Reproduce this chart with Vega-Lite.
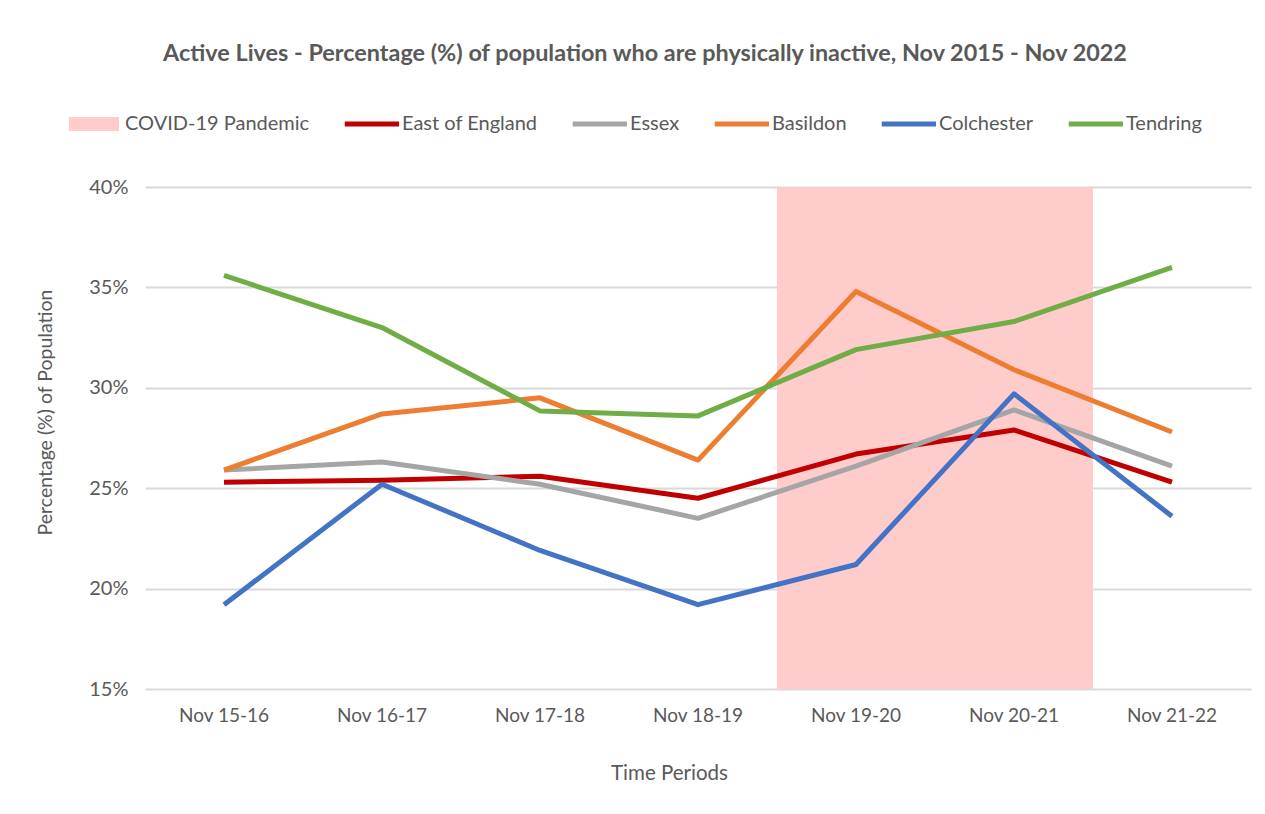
{
  "$schema": "https://vega.github.io/schema/vega-lite/v6.json",
  "autosize": {"type": "none"},
  "width": 1106,
  "height": 502,
  "padding": {"left": 145, "top": 187, "right": 14, "bottom": 125},
  "background": "white",
  "title": {
    "text": "Active Lives - Percentage (%) of population who are physically inactive, Nov 2015 - Nov 2022",
    "anchor": "middle",
    "frame": "group",
    "dx": -53,
    "offset": 33,
    "font": "Lato",
    "fontSize": 23.4,
    "fontWeight": "bold",
    "color": "#595959",
    "limit": 1200
  },
  "config": {
    "view": {"stroke": null},
    "font": "Lato"
  },
  "datasets": {
    "lines": [
      {"period": "Nov 15-16", "area": "East of England", "pct": 25.3},
      {"period": "Nov 16-17", "area": "East of England", "pct": 25.4},
      {"period": "Nov 17-18", "area": "East of England", "pct": 25.6},
      {"period": "Nov 18-19", "area": "East of England", "pct": 24.5},
      {"period": "Nov 19-20", "area": "East of England", "pct": 26.7},
      {"period": "Nov 20-21", "area": "East of England", "pct": 27.9},
      {"period": "Nov 21-22", "area": "East of England", "pct": 25.3},
      {"period": "Nov 15-16", "area": "Essex", "pct": 25.9},
      {"period": "Nov 16-17", "area": "Essex", "pct": 26.3},
      {"period": "Nov 17-18", "area": "Essex", "pct": 25.2},
      {"period": "Nov 18-19", "area": "Essex", "pct": 23.5},
      {"period": "Nov 19-20", "area": "Essex", "pct": 26.1},
      {"period": "Nov 20-21", "area": "Essex", "pct": 28.9},
      {"period": "Nov 21-22", "area": "Essex", "pct": 26.1},
      {"period": "Nov 15-16", "area": "Basildon", "pct": 25.9},
      {"period": "Nov 16-17", "area": "Basildon", "pct": 28.7},
      {"period": "Nov 17-18", "area": "Basildon", "pct": 29.5},
      {"period": "Nov 18-19", "area": "Basildon", "pct": 26.4},
      {"period": "Nov 19-20", "area": "Basildon", "pct": 34.8},
      {"period": "Nov 20-21", "area": "Basildon", "pct": 30.9},
      {"period": "Nov 21-22", "area": "Basildon", "pct": 27.8},
      {"period": "Nov 15-16", "area": "Colchester", "pct": 19.2},
      {"period": "Nov 16-17", "area": "Colchester", "pct": 25.2},
      {"period": "Nov 17-18", "area": "Colchester", "pct": 21.9},
      {"period": "Nov 18-19", "area": "Colchester", "pct": 19.2},
      {"period": "Nov 19-20", "area": "Colchester", "pct": 21.2},
      {"period": "Nov 20-21", "area": "Colchester", "pct": 29.7},
      {"period": "Nov 21-22", "area": "Colchester", "pct": 23.6},
      {"period": "Nov 15-16", "area": "Tendring", "pct": 35.6},
      {"period": "Nov 16-17", "area": "Tendring", "pct": 33.0},
      {"period": "Nov 17-18", "area": "Tendring", "pct": 28.85},
      {"period": "Nov 18-19", "area": "Tendring", "pct": 28.6},
      {"period": "Nov 19-20", "area": "Tendring", "pct": 31.9},
      {"period": "Nov 20-21", "area": "Tendring", "pct": 33.3},
      {"period": "Nov 21-22", "area": "Tendring", "pct": 36.0}
    ],
    "covid": [
      {"period": "Nov 19-20", "area": "COVID-19 Pandemic", "low": 15, "high": 40},
      {"period": "Nov 20-21", "area": "COVID-19 Pandemic", "low": 15, "high": 40}
    ]
  },
  "encoding": {
    "x": {
      "field": "period",
      "type": "nominal",
      "sort": null,
      "scale": {
        "type": "band",
        "domain": ["Nov 15-16", "Nov 16-17", "Nov 17-18", "Nov 18-19", "Nov 19-20", "Nov 20-21", "Nov 21-22"],
        "paddingInner": 0,
        "paddingOuter": 0
      },
      "axis": {
        "title": "Time Periods",
        "titleFont": "Lato",
        "titleFontSize": 20.5,
        "titleFontWeight": "normal",
        "titleColor": "#595959",
        "titleX": 524,
        "titleY": 84,
        "titleBaseline": "middle",
        "labelAngle": 0,
        "labelFont": "Lato",
        "labelFontSize": 19,
        "labelColor": "#595959",
        "labelPadding": 17,
        "ticks": false,
        "domain": false,
        "grid": false
      }
    }
  },
  "layer": [
    {
      "data": {"name": "covid"},
      "mark": {"type": "rect", "opacity": 1},
      "encoding": {
        "y": {"field": "low", "type": "quantitative"},
        "y2": {"field": "high"},
        "color": {"field": "area", "type": "nominal"}
      }
    },
    {
      "data": {"name": "lines"},
      "mark": {"type": "line", "strokeWidth": 5, "strokeJoin": "round", "strokeCap": "butt"},
      "encoding": {
        "y": {
          "field": "pct",
          "type": "quantitative",
          "scale": {"domain": [15, 40], "nice": false, "zero": false},
          "axis": {
            "values": [15, 20, 25, 30, 35, 40],
            "labelExpr": "datum.value + '%'",
            "title": "Percentage (%) of Population",
            "titleFont": "Lato",
            "titleFontSize": 19.5,
            "titleFontWeight": "normal",
            "titleColor": "#595959",
            "titleAngle": -90,
            "titleX": -100,
            "titleY": 225,
            "titleAlign": "center",
            "titleBaseline": "middle",
            "labelFont": "Lato",
            "labelFontSize": 20,
            "labelColor": "#595959",
            "labelPadding": 17,
            "ticks": false,
            "domain": false,
            "grid": true,
            "gridColor": "#d9d9d9",
            "gridWidth": 2
          }
        },
        "color": {
          "field": "area",
          "type": "nominal",
          "sort": null,
          "scale": {
            "domain": ["COVID-19 Pandemic", "East of England", "Essex", "Basildon", "Colchester", "Tendring"],
            "range": ["#FFCCCC", "#C00000", "#A5A5A5", "#ED7D31", "#4472C4", "#70AD47"]
          },
          "legend": {
            "title": null,
            "orient": "none",
            "legendX": -76,
            "legendY": -88,
            "direction": "horizontal",
            "columnPadding": 34,
            "symbolSize": 2500,
            "labelOffset": 6,
            "labelLimit": 400,
            "labelFont": "Lato",
            "labelFontSize": 20,
            "labelColor": "#595959",
            "encode": {
              "symbols": {
                "update": {
                  "shape": {"signal": "datum.value === 'COVID-19 Pandemic' ? 'M-1,-0.28H1V0.28H-1Z' : 'M-1.05,-0.1H1.12V0.1H-1.05Z'"},
                  "fill": {"scale": "color", "field": "value"},
                  "stroke": {"value": "transparent"},
                  "strokeWidth": {"value": 0},
                  "opacity": {"value": 1}
                }
              }
            }
          }
        }
      }
    }
  ]
}
